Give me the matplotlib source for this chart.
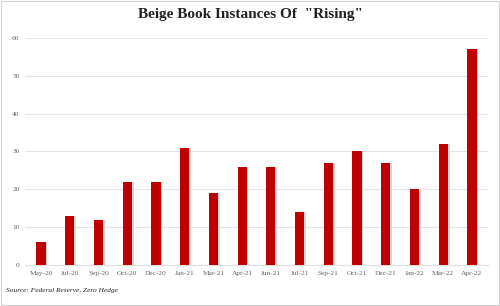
import matplotlib.pyplot as plt

months = ['May-20', 'Jul-20', 'Sep-20', 'Oct-20', 'Dec-20', 'Jan-21', 'Mar-21', 'Apr-21',
          'Jun-21', 'Jul-21', 'Sep-21', 'Oct-21', 'Dec-21', 'Jan-22', 'Mar-22', 'Apr-22']
rising = [6, 13, 12, 22, 22, 31, 19, 26, 26, 14, 27, 30, 27, 20, 32, 57]

fig = plt.figure(figsize=(5, 3.06), dpi=100)
ax = fig.add_axes([0.05, 0.134, 0.926, 0.742])

x = list(range(len(months)))
# soft shadow behind the bars
ax.bar([i + 0.06 for i in x], rising, width=0.32, color='#d8d8d8', zorder=2)
ax.bar(x, rising, width=0.32, color='#c00000', zorder=3)

ax.set_xlim(-0.56, 15.56)
ax.set_ylim(0, 60)
ax.set_yticks(range(0, 61, 10))
ax.set_xticks(x)
ax.set_xticklabels(months)
ax.grid(axis='y', color='#e4e4e4', linewidth=0.8, zorder=0)
for s in ['top', 'right', 'left']:
    ax.spines[s].set_visible(False)
ax.spines['bottom'].set_color('#e0e0e0')
ax.tick_params(length=0, labelsize=5.3, labelcolor='#666666', pad=4)
for lab in ax.get_xticklabels() + ax.get_yticklabels():
    lab.set_family('Liberation Serif')

fig.text(0.5, 0.952, 'Beige Book Instances Of  "Rising"', ha='center', va='center',
         fontsize=11, fontweight='bold', family='Liberation Serif', color='#222222')
fig.text(0.012, 0.05, 'Source: Federal Reserve, Zero Hedge', ha='left', va='center',
         fontsize=5.3, style='italic', family='Liberation Serif', color='#222222')

# thin frame round the picture
fig.patches.append(plt.Rectangle((0.002, 0.003), 0.995, 0.994, transform=fig.transFigure,
                                 fill=False, edgecolor='#d0d0d0', linewidth=0.8))

plt.savefig('out.png', dpi=100)
